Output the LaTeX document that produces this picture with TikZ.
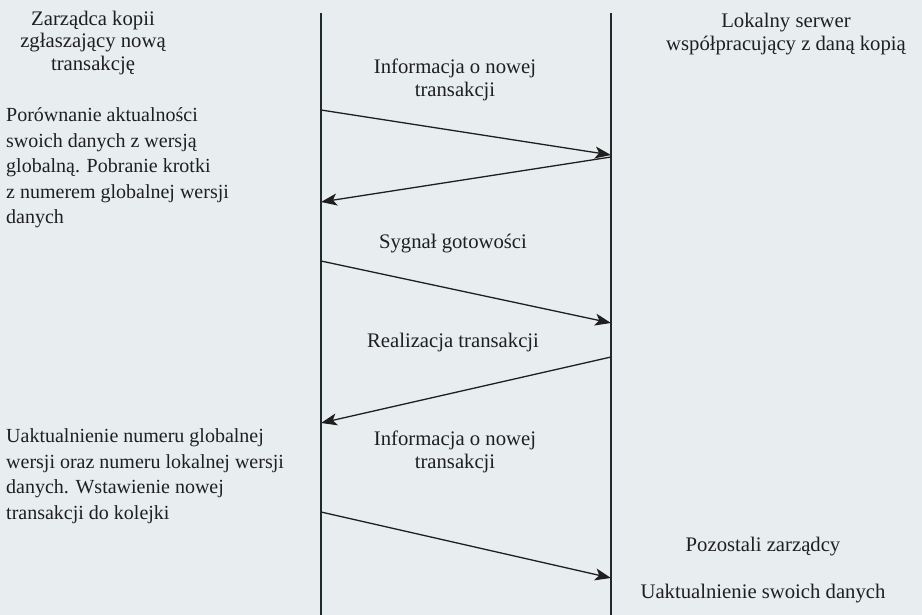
\documentclass[tikz,border=0pt]{standalone}
\usepackage{fontspec}
\setmainfont{Liberation Serif}
\usetikzlibrary{arrows.meta}
\definecolor{paper}{HTML}{E8EDF0}
\definecolor{ink}{HTML}{1F1F1F}
\definecolor{lifeink}{HTML}{1E2A2E}
\begin{document}
\begin{tikzpicture}[x=1pt,y=-1pt,
  lifeline/.style={draw=lifeink,line width=1.4pt},
  msg/.style={draw=ink,line width=1.3pt,-{Stealth[length=16pt,width=12pt,inset=4pt]}},
  lbl/.style={font=\fontsize{20.7}{22.5}\selectfont,text=ink,align=center,inner sep=0pt},
  note/.style={font=\fontsize{20}{25.5}\selectfont,text=ink,align=left,inner sep=0pt,anchor=west}]
  % page
  \fill[paper] (0,0) rectangle (922,615);
  \useasboundingbox (0,0) rectangle (922,615);

  % lifelines
  \coordinate (Ltop) at (321,13);
  \coordinate (Lbot) at (321,615);
  \coordinate (Rtop) at (611,13);
  \coordinate (Rbot) at (611,615);
  \draw[lifeline] (Ltop) -- (Lbot);
  \draw[lifeline] (Rtop) -- (Rbot);

  % message end points on the lifelines
  \coordinate (a1) at (321,110);
  \coordinate (b1) at (611,155);
  \coordinate (b2) at (611,157);
  \coordinate (a2) at (321,202);
  \coordinate (a3) at (321,261);
  \coordinate (b3) at (611,323);
  \coordinate (b4) at (611,357);
  \coordinate (a4) at (321,423);
  \coordinate (a5) at (321,512);
  \coordinate (b5) at (611,578);

  % messages
  \draw[msg] (a1) -- (b1);
  \draw[msg] (b2) -- (a2);
  \draw[msg] (a3) -- (b3);
  \draw[msg] (b4) -- (a4);
  \draw[msg] (a5) -- (b5);

  % participant headings
  \node[lbl] (hleft) at (93,43) {Zarządca kopii\\zgłaszający nową\\transakcję};
  \node[lbl] (hright) at (786,34) {Lokalny serwer\\współpracujący z daną kopią};

  % message labels
  \node[lbl] (m1) at (455,80) {Informacja o nowej\\transakcji};
  \node[lbl] (m2) at (453,244) {Sygnał gotowości};
  \node[lbl] (m3) at (453,343) {Realizacja transakcji};
  \node[lbl] (m4) at (455,452) {Informacja o nowej\\transakcji};

  % actions of the copy manager
  \node[note] (n1) at (6,168) {Porównanie aktualności\\swoich danych z wersją\\globalną. Pobranie krotki\\z numerem globalnej wersji\\danych};
  \node[note] (n2) at (6,476) {Uaktualnienie numeru globalnej\\wersji oraz numeru lokalnej wersji\\danych. Wstawienie nowej\\transakcji do kolejki};

  % other managers
  \node[lbl] (others) at (763,547) {Pozostali zarządcy};
  \node[lbl] (update) at (763,594) {Uaktualnienie swoich danych};
\end{tikzpicture}
\end{document}
